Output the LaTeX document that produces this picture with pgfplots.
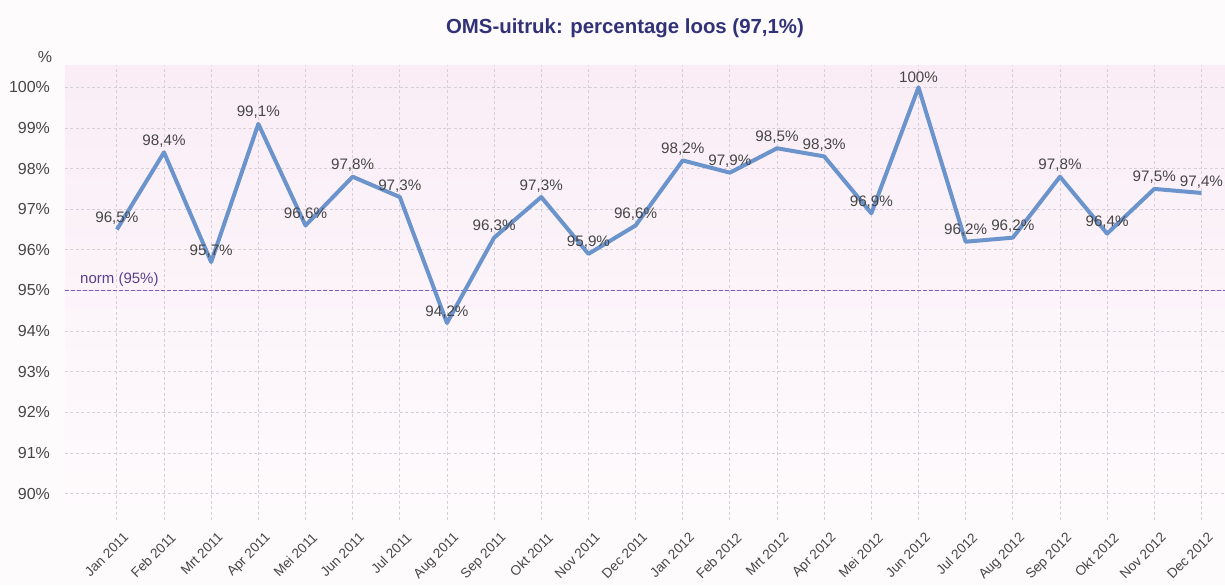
\documentclass[border=0pt]{standalone}
\usepackage{pgfplots}
\pgfplotsset{compat=1.18}
\usepackage{pgfplotstable}
\usepackage{fontspec}
\setmainfont{Liberation Sans}
\definecolor{linecol}{RGB}{108,148,204}
\definecolor{normcol}{RGB}{130,90,200}
\definecolor{titlecol}{RGB}{50,50,120}
\definecolor{txtcol}{RGB}{70,70,70}
\definecolor{gridcol}{RGB}{215,208,215}
\pgfplotstableread{
x y lab
0 96.5 96,5
1 98.4 98,4
2 95.7 95,7
3 99.1 99,1
4 96.6 96,6
5 97.8 97,8
6 97.3 97,3
7 94.2 94,2
8 96.3 96,3
9 97.3 97,3
10 95.9 95,9
11 96.6 96,6
12 98.2 98,2
13 97.9 97,9
14 98.5 98,5
15 98.3 98,3
16 96.9 96,9
17 100 100
18 96.2 96,2
19 96.3 96,2
20 97.8 97,8
21 96.4 96,4
22 97.5 97,5
23 97.4 97,4
}\datatable
\begin{document}
\begin{tikzpicture}
\fill[color={rgb,255:red,254;green,251;blue,253}] (-32.5pt,-32.5pt) rectangle (580pt,260pt);
\begin{axis}[
  scale only axis, width=580pt, height=227.5pt,
  xmin=-1.1, xmax=23.5, ymin=89.35, ymax=100.55,
  clip=false,
  axis line style={draw=none},
  major tick length=0pt,
  /pgf/number format/assume math mode=true,
  ytick={90,91,...,100},
  yticklabel={\pgfmathprintnumber[fixed,precision=0]{\tick}\%},
  yticklabel style={font=\fontsize{8}{9}\selectfont, text=txtcol, xshift=-4pt},
  xtick={0,1,...,23},
  xticklabels={Jan 2011,Feb 2011,Mrt 2011,Apr 2011,Mei 2011,Jun 2011,Jul 2011,Aug 2011,Sep 2011,Okt 2011,Nov 2011,Dec 2011,Jan 2012,Feb 2012,Mrt 2012,Apr 2012,Mei 2012,Jun 2012,Jul 2012,Aug 2012,Sep 2012,Okt 2012,Nov 2012,Dec 2012},
  xticklabel style={font=\fontsize{6.8}{8}\selectfont, text=txtcol, rotate=45, anchor=north east, inner sep=1pt, yshift=-5pt, xshift=-1pt},
  grid=major,
  grid style={color=gridcol, line width=0.4pt, dash pattern=on 1.5pt off 1.2pt},
  axis background/.style={top color={rgb,255:red,250;green,237;blue,246}, bottom color={rgb,255:red,254;green,251;blue,253}},
]
\addplot[normcol, line width=0.6pt, dash pattern=on 2pt off 1pt] coordinates {(-1.1,95) (23.5,95)};
\node[anchor=south west, text=normcol!70!black, font=\fontsize{7.5}{9}\selectfont, inner sep=1.5pt] at (axis cs:-0.85,95) {norm (95\%)};
\addplot[linecol, line width=2pt, line join=round, mark=none,
  point meta=explicit symbolic,
  nodes near coords={\pgfplotspointmeta\%},
  every node near coord/.append style={font=\fontsize{7.6}{9}\selectfont, text=txtcol, anchor=south, inner sep=1.5pt}]
  table[x=x, y=y, meta=lab] {\datatable};
\end{axis}
\node[font=\bfseries\fontsize{10.2}{12}\selectfont, text=titlecol] at (280pt,246pt) {OMS-uitruk: percentage loos (97,1\%)};
\node[font=\fontsize{8}{9}\selectfont, text=txtcol] at (-10pt,231.5pt) {\%};
\pgfresetboundingbox
\path (-32.5pt,-32.5pt) rectangle (580pt,260pt);
\end{tikzpicture}
\end{document}
